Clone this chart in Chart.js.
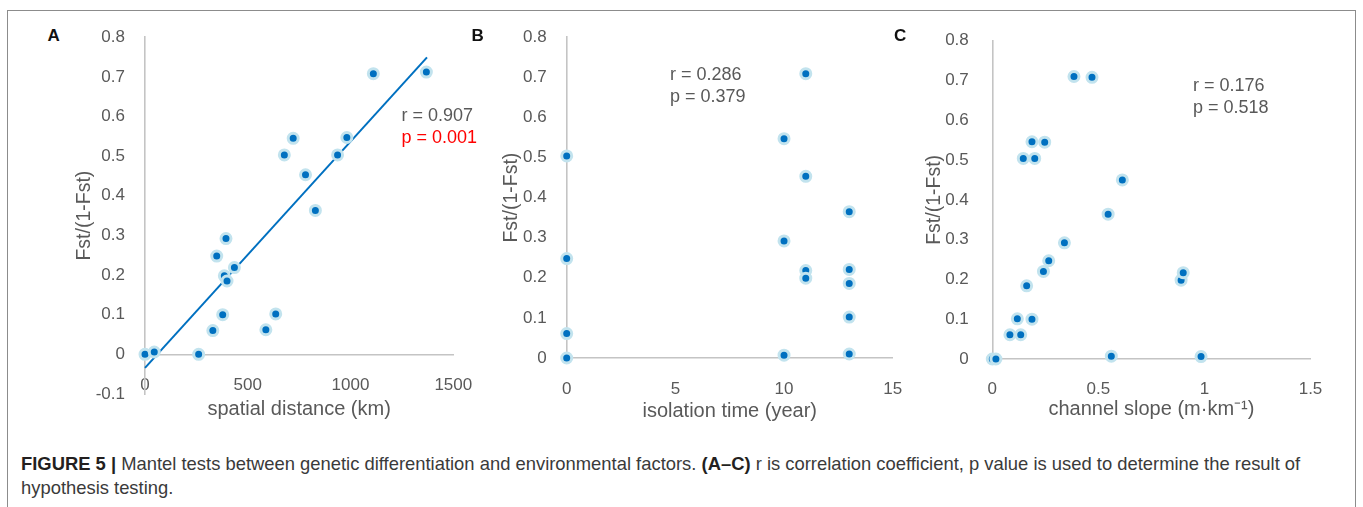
<!DOCTYPE html>
<html>
<head>
<meta charset="utf-8">
<script src="https://cdn.jsdelivr.net/npm/chart.js@4.4.1/dist/chart.umd.min.js"></script>
<style>
    html, body { margin: 0; padding: 0; background: #fff; }
    body { width: 1363px; height: 507px; position: relative; overflow: hidden; font-family: "Liberation Sans", Arial, sans-serif; }
    .frame { position: absolute; left: 7px; top: 10px; width: 1349px; height: 530px; border: 1.5px solid #8c8c8c; box-sizing: border-box; }
    .panel { position: absolute; }
    .letter { position: absolute; font-size: 17px; font-weight: bold; line-height: 20px; color: #111; }
    .note { position: absolute; font-size: 18px; line-height: 21.5px; color: #595959; white-space: nowrap; }
    .caption { position: absolute; left: 21px; top: 452px; font-size: 18.4px; line-height: 23.5px; color: #3a3a3a; white-space: nowrap; }
    .caption b { color: #231f20; }
</style>
</head>
<body>
<div class="frame"></div>

<div class="panel" id="wrapA" style="left:73px; top:15px; width:412px; height:417px;"><canvas id="chartA"></canvas></div>
<div class="panel" id="wrapB" style="left:500px; top:15px; width:423px; height:417px;"><canvas id="chartB"></canvas></div>
<div class="panel" id="wrapC" style="left:923px; top:15px; width:418px; height:417px;"><canvas id="chartC"></canvas></div>

<div class="letter" style="left:47.5px; top:25.5px;">A</div>
<div class="letter" style="left:471.5px; top:25.5px;">B</div>
<div class="letter" style="left:894px; top:25.5px;">C</div>

<div class="note" style="left:401.5px; top:105px;">r = 0.907<br><span style="color:#ff0000">p = 0.001</span></div>
<div class="note" style="left:670px; top:64px;">r = 0.286<br>p = 0.379</div>
<div class="note" style="left:1193px; top:75px;">r = 0.176<br>p = 0.518</div>

<div class="caption"><b>FIGURE 5 |</b> Mantel tests between genetic differentiation and environmental factors. <b>(A–C)</b> r is correlation coefficient, p value is used to determine the result of<br>hypothesis testing.</div>

<script>
// Panel A - spatial distance (km) vs Fst/(1-Fst)
const distA = [0, 45, 261, 330, 349, 378, 386, 399, 394, 435, 588, 636, 678, 721, 781, 829, 937, 982, 1111, 1369];
const fstA  = [0, 0.006, 0, 0.060, 0.248, 0.100, 0.198, 0.185, 0.292, 0.219, 0.062, 0.102, 0.503, 0.545, 0.453, 0.363, 0.503, 0.547, 0.708, 0.712];
const trendX = [0, 1372];
const trendY = [-0.034, 0.749];

// Panel B - isolation time (year)
const timeB = [0, 0, 0, 0, 10, 10, 10, 11, 11, 11, 11, 13, 13, 13, 13, 13];
const fstB  = [0.504, 0.248, 0.061, 0, 0.547, 0.292, 0.007, 0.709, 0.453, 0.218, 0.199, 0.365, 0.221, 0.186, 0.102, 0.010];

// Panel C - channel slope (m·km-1)
const slopeC = [0, 0.017, 0.083, 0.134, 0.118, 0.187, 0.162, 0.241, 0.266, 0.340, 0.146, 0.200, 0.187, 0.247, 0.385, 0.470, 0.613, 0.546, 0.561, 0.890, 0.900, 0.984];
const fstC   = [0, 0, 0.061, 0.061, 0.101, 0.100, 0.184, 0.220, 0.247, 0.292, 0.504, 0.504, 0.546, 0.545, 0.710, 0.708, 0.450, 0.364, 0.007, 0.198, 0.217, 0.006];

// tick labels
const yTicksA = [-0.1, 0, 0.1, 0.2, 0.3, 0.4, 0.5, 0.6, 0.7, 0.8];
const yTicksBC = [0, 0.1, 0.2, 0.3, 0.4, 0.5, 0.6, 0.7, 0.8];
const xTicksA = [0, 500, 1000, 1500];
const xTicksB = [0, 5, 10, 15];
const xTicksC = [0, 0.5, 1, 1.5];

const axisGray = '#c4c4c4';
const textGray = '#595959';
const dotBlue = '#0070c0';

Chart.defaults.font.family = '"Liberation Sans", Arial, sans-serif';
Chart.defaults.animation = false;

function pts(xs, ys) {
    return xs.map((x, i) => ({x: x, y: ys[i]}));
}

function makePanel(canvasId, p) {
    const datasets = [{
        data: pts(p.xs, p.ys),
        backgroundColor: dotBlue,
        borderColor: '#c2e3ee',
        borderWidth: 3,
        pointRadius: 5,
        pointHoverRadius: 5,
        clip: false
    }];
    if (p.trend) {
        datasets.push({
            data: pts(p.trend[0], p.trend[1]),
            showLine: true,
            borderColor: dotBlue,
            borderWidth: 2,
            pointRadius: 0,
            clip: false
        });
    }

    return new Chart(document.getElementById(canvasId), {
        type: 'scatter',
        data: { datasets: datasets },
        options: {
            responsive: true,
            maintainAspectRatio: false,
            layout: { padding: p.pad },
            plugins: { legend: { display: false }, tooltip: { enabled: false } },
            scales: {
                x: {
                    type: 'linear',
                    position: { y: 0 },
                    min: p.xTicks[0],
                    max: p.xTicks[p.xTicks.length - 1],
                    afterBuildTicks: (s) => { s.ticks = p.xTicks.map(v => ({value: v})); },
                    afterFit: (s) => { s.height = p.xTitleH; },
                    grid: { display: false },
                    border: { color: axisGray, width: 1.6 },
                    ticks: {
                        padding: p.xTickPad,
                        color: textGray,
                        font: { size: 17 },
                        maxRotation: 0,
                        callback: (v) => String(v)
                    },
                    title: { display: true, text: p.xTitle, color: textGray, font: { size: 20 }, padding: 0 }
                },
                y: {
                    type: 'linear',
                    position: 'left',
                    min: p.yTicks[0],
                    max: p.yTicks[p.yTicks.length - 1],
                    afterBuildTicks: (s) => { s.ticks = p.yTicks.map(v => ({value: v})); },
                    afterFit: (s) => { s.width = p.yWidth; },
                    grid: { display: false },
                    border: { color: axisGray, width: 1.6 },
                    ticks: {
                        padding: p.yTickPad,
                        color: textGray,
                        font: { size: 17 },
                        callback: (v) => String(v)
                    },
                    title: { display: true, text: 'Fst/(1-Fst)', color: textGray, font: { size: 19.5 }, padding: 0 }
                }
            }
        }
    });
}

document.addEventListener('DOMContentLoaded', function() {
    makePanel('chartA', {
        xs: distA, ys: fstA, trend: [trendX, trendY],
        xTicks: xTicksA, yTicks: yTicksA,
        xTitle: 'spatial distance (km)',
        pad: { left: 0, top: 20, right: 30, bottom: 38 },
        yWidth: 72, yTickPad: 12, xTickPad: 12.8, xTitleH: 67
    });
    makePanel('chartB', {
        xs: timeB, ys: fstB,
        xTicks: xTicksB, yTicks: yTicksBC,
        xTitle: 'isolation time (year)',
        pad: { left: 0, top: 18.3, right: 30.3, bottom: 74 },
        yWidth: 66.7, yTickPad: 12, xTickPad: 12.8, xTitleH: 65
    });
    makePanel('chartC', {
        xs: slopeC, ys: fstC,
        xTicks: xTicksC, yTicks: yTicksBC,
        xTitle: 'channel slope (m·km⁻¹)',
        pad: { left: 0, top: 18.7, right: 30.5, bottom: 73 },
        yWidth: 69.3, yTickPad: 15.5, xTickPad: 11.8, xTitleH: 62
    });
});
</script>
</body>
</html>
